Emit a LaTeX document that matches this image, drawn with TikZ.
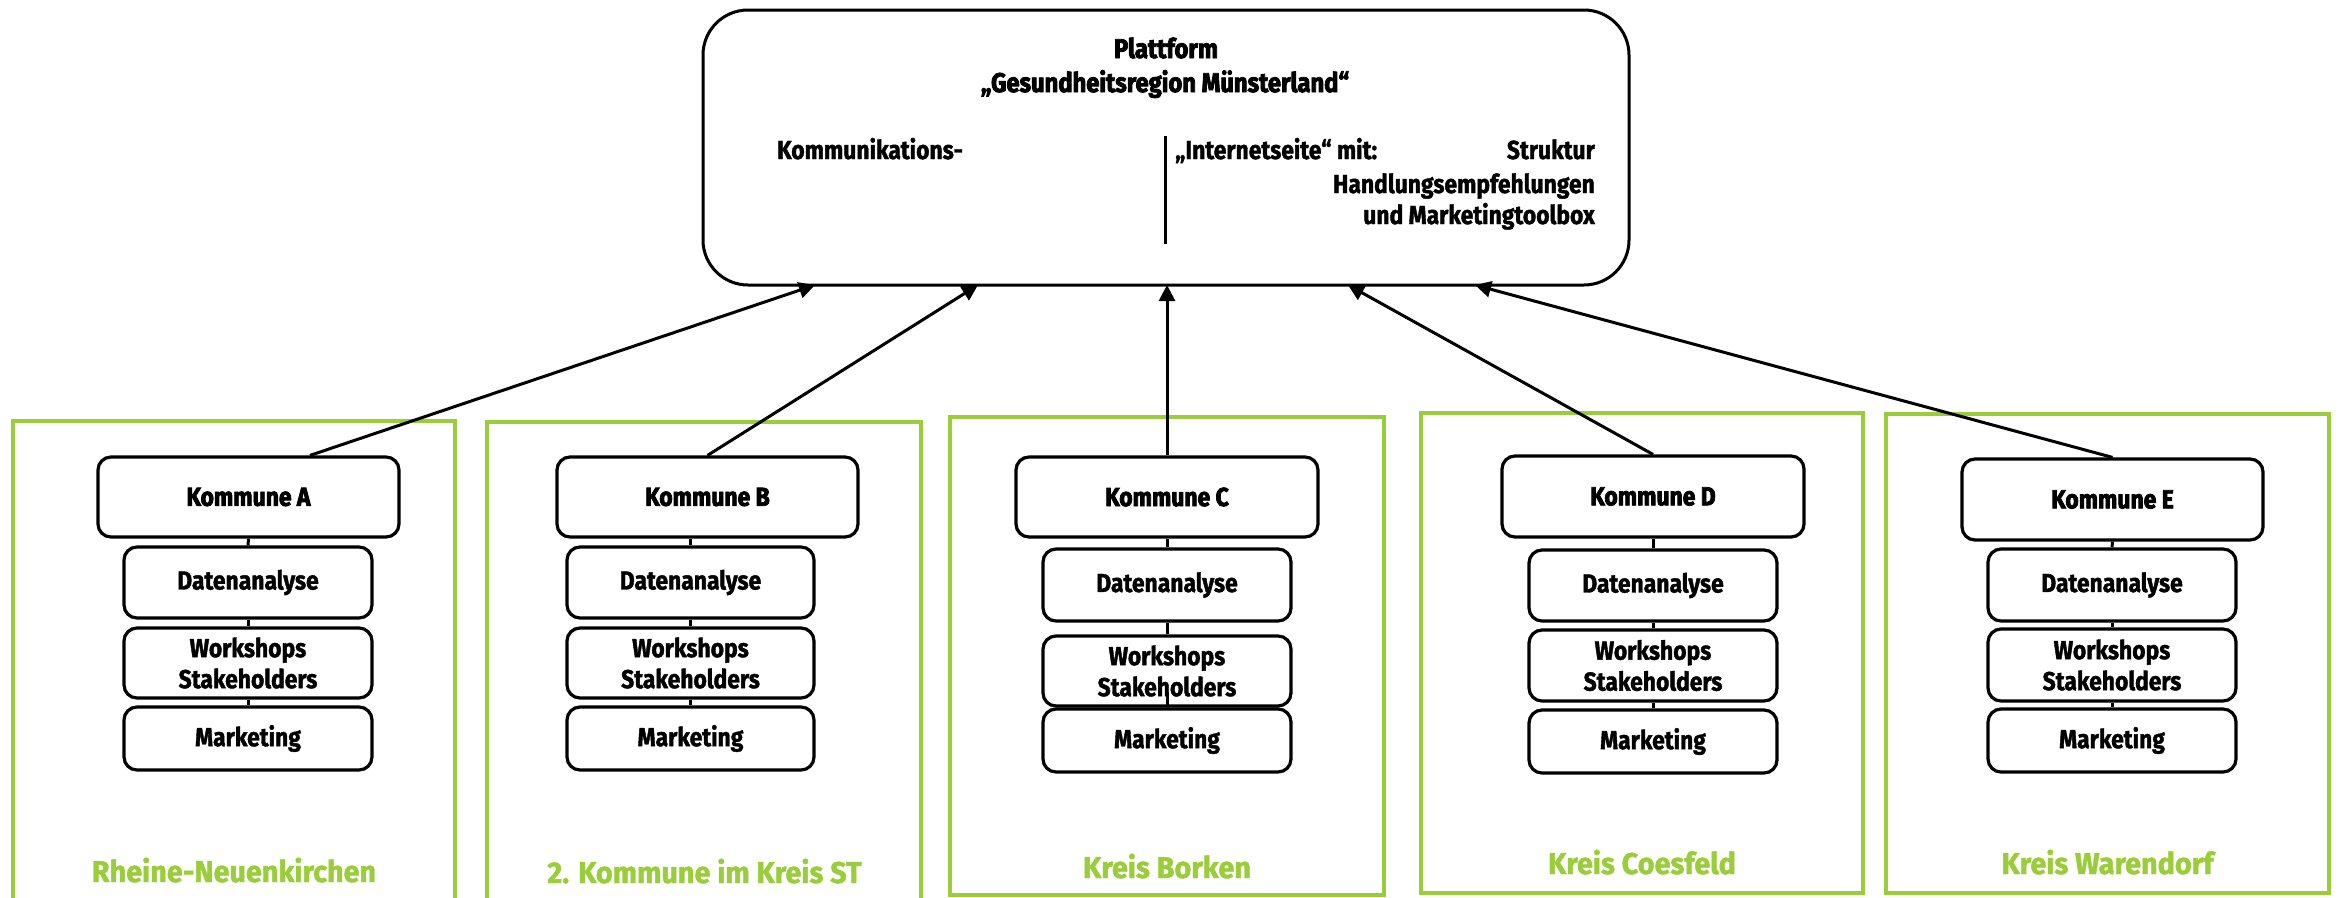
\documentclass[tikz,border=0pt]{standalone}
\usepackage{fontspec}
\setmainfont{Fira Sans}[FakeStretch=0.88, BoldFeatures={FakeBold=1.5}]
\newfontfamily\heavyfont{Fira Sans}[FakeStretch=0.88, BoldFeatures={FakeBold=3}]
\newfontfamily\labelfont{Fira Sans}[FakeStretch=0.96, BoldFeatures={FakeBold=1.5}]
\usetikzlibrary{arrows.meta,positioning}
\definecolor{kgreen}{HTML}{9ACD3A}
\tikzset{
  box/.style={draw=black, line width=3.2pt, rounded corners=13pt, inner sep=0pt, align=center,
    font=\fontsize{26}{31}\selectfont\bfseries},
  kbox/.style={box, font=\fontsize{26}{31}\selectfont\heavyfont\bfseries},
  region/.style={draw=kgreen, line width=4pt},
  rlabel/.style={text=kgreen, anchor=base, inner sep=0pt, font=\fontsize{30}{34}\selectfont\labelfont\bfseries},
  ptext/.style={inner sep=0pt, font=\fontsize{26}{33}\selectfont\bfseries},
  ttext/.style={inner sep=0pt, anchor=base, font=\fontsize{27}{34}\selectfont\heavyfont\bfseries},
  link/.style={line width=3pt},
  arrow/.style={line width=3pt, -{Triangle[length=16pt,width=16pt]}}
}
\begin{document}
\begin{tikzpicture}[x=1pt,y=-1pt]
\useasboundingbox (0,0) rectangle (2341,897);
\fill[white] (0,0) rectangle (2341,897);

% platform box
\node[draw=black, line width=3pt, rounded corners=45pt, minimum width=926pt, minimum height=275pt, inner sep=0pt] (plat) at (1166,147.5) {};
\node[ttext] (t1) at (1166,58) {Plattform};
\node[ttext] (t2) at (1165,92) {„Gesundheitsregion Münsterland“};
\node[ptext, anchor=base west] (komm) at (777,159) {Kommunikations-};
\draw[line width=3pt] (1165,136) -- (1165,244);
\node[ptext, anchor=base west] (inet) at (1175,159) {„Internetseite“ mit:};
\node[ptext, anchor=base east] (s1) at (1595,159) {Struktur};
\node[ptext, anchor=base east] (s2) at (1595,193) {Handlungsempfehlungen};
\node[ptext, anchor=base east] (s3) at (1595,224) {und Marketingtoolbox};

\coordinate (tA) at (815,285);
\coordinate (tB) at (978,285);
\coordinate (tC) at (1167,285);
\coordinate (tD) at (1348,285);
\coordinate (tE) at (1475,285);

% regions
\draw[region] (13,421) rectangle (455,915);
\draw[region] (487,422) rectangle (921,915);
\draw[region] (950,417) rectangle (1384,895);
\draw[region] (1421,413) rectangle (1863,893);
\draw[region] (1886,414) rectangle (2329,893);

% group A
\node[kbox, minimum width=301pt, minimum height=80pt] (kA) at (248.5,497) {Kommune A};
\node[box, minimum width=248pt, minimum height=71pt] (dA) at (248,582.5) {Datenanalyse};
\node[box, minimum width=248pt, minimum height=70pt] (wA) at (248,663) {Workshops\\Stakeholders};
\node[box, minimum width=248pt, minimum height=63pt] (mA) at (248,738.5) {Marketing};
\draw[link] (kA.south) -- (dA.north);
\draw[link] (dA.south) -- (wA.north);
\draw[link] (wA.south) -- (mA.north);
\node[rlabel] (lA) at (234,882) {Rheine-Neuenkirchen};

% group B
\node[kbox, minimum width=301pt, minimum height=80pt] (kB) at (707.5,497) {Kommune B};
\node[box, minimum width=247pt, minimum height=71pt] (dB) at (690.5,582.5) {Datenanalyse};
\node[box, minimum width=247pt, minimum height=70pt] (wB) at (690.5,663) {Workshops\\Stakeholders};
\node[box, minimum width=247pt, minimum height=63pt] (mB) at (690.5,738.5) {Marketing};
\draw[link] (kB.south -| dB.north) -- (dB.north);
\draw[link] (dB.south) -- (wB.north);
\draw[link] (wB.south) -- (mB.north);
\node[rlabel] (lB) at (704.5,883) {2. Kommune im Kreis ST};

% group C
\node[kbox, minimum width=302pt, minimum height=80pt] (kC) at (1167,497) {Kommune C};
\node[box, minimum width=248pt, minimum height=72pt] (dC) at (1167,585) {Datenanalyse};
\node[box, minimum width=248pt, minimum height=70pt] (wC) at (1167,671) {Workshops\\Stakeholders};
\node[box, minimum width=248pt, minimum height=63pt] (mC) at (1167,740.5) {Marketing};
\draw[link] (kC.south) -- (dC.north);
\draw[link] (dC.south) -- (wC.north);
\draw[link] ([yshift=16pt]wC.south) -- (mC.north);
\node[rlabel] (lC) at (1167,878) {Kreis Borken};

% group D
\node[kbox, minimum width=302pt, minimum height=81pt] (kD) at (1653,496.5) {Kommune D};
\node[box, minimum width=248pt, minimum height=71pt] (dD) at (1653,585.5) {Datenanalyse};
\node[box, minimum width=248pt, minimum height=71pt] (wD) at (1653,665.5) {Workshops\\Stakeholders};
\node[box, minimum width=248pt, minimum height=63pt] (mD) at (1653,741.5) {Marketing};
\draw[link] (kD.south) -- (dD.north);
\draw[link] (dD.south) -- (wD.north);
\draw[link] (wD.south) -- (mD.north);
\node[rlabel] (lD) at (1642,874) {Kreis Coesfeld};

% group E
\node[kbox, minimum width=301pt, minimum height=81pt] (kE) at (2112.5,499.5) {Kommune E};
\node[box, minimum width=248pt, minimum height=72pt] (dE) at (2112,585) {Datenanalyse};
\node[box, minimum width=248pt, minimum height=72pt] (wE) at (2112,665) {Workshops\\Stakeholders};
\node[box, minimum width=248pt, minimum height=63pt] (mE) at (2112,740.5) {Marketing};
\draw[link] (kE.south) -- (dE.north);
\draw[link] (dE.south) -- (wE.north);
\draw[link] (wE.south) -- (mE.north);
\node[rlabel] (lE) at (2107.5,874) {Kreis Warendorf};

% arrows
\draw[arrow] ([xshift=61.5pt]kA.north) -- (tA);
\draw[arrow] (kB.north) -- (tB);
\draw[arrow] (kC.north) -- (tC);
\draw[arrow] (kD.north) -- (tD);
\draw[arrow] (kE.north) -- (tE);
\end{tikzpicture}
\end{document}
